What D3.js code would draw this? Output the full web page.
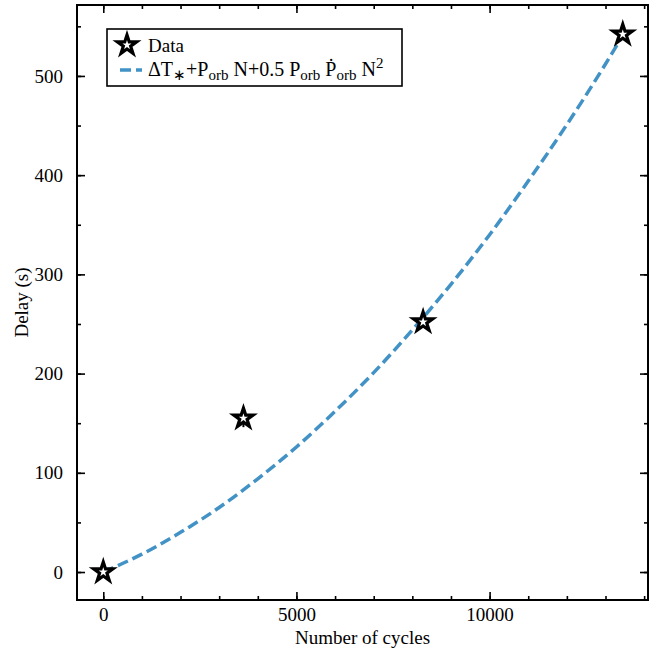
<!DOCTYPE html>
<html><head><meta charset="utf-8">
<script src="https://cdn.jsdelivr.net/npm/d3@7"></script>
<style>body{margin:0;background:#fff}svg{display:block}svg text{font-family:"Times New Roman",Times,"Liberation Serif",serif !important}</style>
</head><body><svg id="c" width="660" height="650"></svg>
<script>
// Data
const cycles = [0, 3628, 8279, 13447];
const delays = [0, 155, 252, 542];
const delayErr = [2, 9, 3, 3];
const fitCycles = [0, 1000, 2000, 3000, 4000, 5000, 6000, 7000, 8000, 9000, 10000, 11000, 12000, 13000, 13450];
const fitDelays = [0, 18, 40, 65, 94, 126, 162, 201, 244, 290, 340, 394, 451, 512, 541];
const xTicks = [0, 5000, 10000];
const yTicks = [0, 100, 200, 300, 400, 500];

const svg = d3.select("#c");
const L = 77, R = 648, T = 5, B = 600;
const x = d3.scaleLinear().domain([-680, 14100]).range([L, R]);
const y = d3.scaleLinear().domain([-28.2, 571.5]).range([B, T]);

const blue = "#4292c6";
// fit line
svg.append("path")
  .datum(fitCycles.map((c, i) => [c, fitDelays[i]]))
  .attr("fill", "none").attr("stroke", blue).attr("stroke-width", 3.5)
  .attr("stroke-dasharray", "11,5")
  .attr("d", d3.line().x(d => x(d[0])).y(d => y(d[1])).curve(d3.curveMonotoneX));

// error bars
cycles.forEach((c, i) => {
  svg.append("line").attr("x1", x(c)).attr("x2", x(c))
    .attr("y1", y(delays[i] - delayErr[i])).attr("y2", y(delays[i] + delayErr[i]))
    .attr("stroke", "#000").attr("stroke-width", 2);
});
// stars
const star = d3.symbol().type(d3.symbolStar).size(115);
svg.selectAll(".pt").data(cycles).enter().append("path")
  .attr("transform", (c, i) => `translate(${x(c)},${y(delays[i])})`)
  .attr("d", star()).attr("fill", "#fff").attr("stroke", "#000").attr("stroke-width", 3.2)
  .attr("stroke-linejoin", "miter");

// axes with inward ticks on all sides
const fs = 19;
function ax(gen, tr) {
  const g = svg.append("g").attr("transform", tr).call(gen);
  g.attr("font-family", null).attr("font-size", null);
  g.select(".domain").remove();
  g.selectAll("line").attr("stroke", "#000").attr("stroke-width", 1.6);
  g.selectAll("text").style("font-size", fs + "px").attr("fill", "#000");
  return g;
}
const xMinor = d3.range(0, 14001, 1000);
const yMinor = d3.range(0, 571, 50);
ax(d3.axisBottom(x).tickValues(xMinor).tickSize(-4).tickFormat(""), `translate(0,${B})`);
ax(d3.axisTop(x).tickValues(xMinor).tickSize(-4).tickFormat(""), `translate(0,${T})`);
ax(d3.axisLeft(y).tickValues(yMinor).tickSize(-4).tickFormat(""), `translate(${L},0)`);
ax(d3.axisRight(y).tickValues(yMinor).tickSize(-4).tickFormat(""), `translate(${R},0)`);
ax(d3.axisBottom(x).tickValues(xTicks).tickSize(-8).tickPadding(8).tickFormat(d3.format("d")), `translate(0,${B})`);
ax(d3.axisTop(x).tickValues(xTicks).tickSize(-8).tickFormat(""), `translate(0,${T})`);
ax(d3.axisLeft(y).tickValues(yTicks).tickSize(-8).tickPadding(14).tickFormat(d3.format("d")), `translate(${L},0)`);
ax(d3.axisRight(y).tickValues(yTicks).tickSize(-8).tickFormat(""), `translate(${R},0)`);

// frame
svg.append("rect").attr("x", L).attr("y", T).attr("width", R - L).attr("height", B - T)
  .attr("fill", "none").attr("stroke", "#000").attr("stroke-width", 2);

// axis labels
svg.append("text").attr("x", (L + R) / 2).attr("y", 644).attr("text-anchor", "middle")
  .style("font-size", "19px").text("Number of cycles");
svg.append("text").attr("transform", `translate(28,${(T + B) / 2}) rotate(-90)`).attr("text-anchor", "middle")
  .style("font-size", "19px").text("Delay (s)");

// legend
const lg = svg.append("g");
lg.append("rect").attr("x", 107).attr("y", 29).attr("width", 295).attr("height", 57)
  .attr("fill", "#fff").attr("stroke", "#000").attr("stroke-width", 1.6);
lg.append("path").attr("transform", "translate(127,45)").attr("d", star())
  .attr("fill", "#fff").attr("stroke", "#000").attr("stroke-width", 3.2);
lg.append("text").attr("x", 148).attr("y", 52).style("font-size", "19px").text("Data");
lg.append("line").attr("x1", 120).attr("x2", 142).attr("y1", 70).attr("y2", 70)
  .attr("stroke", blue).attr("stroke-width", 3.5).attr("stroke-dasharray", "11,5");
const t2 = lg.append("text").attr("x", 148).attr("y", 76).style("font-size", "20px");
const sub = (s) => t2.append("tspan").attr("dy", 4).style("font-size", "15px").text(s);
const up = (s) => t2.append("tspan").attr("dy", -4).text(s);
t2.append("tspan").text("ΔT");
sub("∗");
up("+P");
sub("orb");
up(" N+0.5 P");
sub("orb");
up(" Ṗ");
sub("orb");
up(" N");
t2.append("tspan").attr("dy", -8).style("font-size", "15px").text("2");
</script></body></html>
